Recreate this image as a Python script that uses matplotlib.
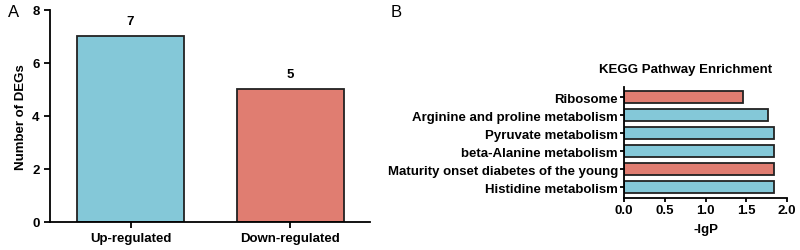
import matplotlib.pyplot as plt

plt.rcParams['font.family'] = ['Liberation Sans', 'DejaVu Sans']
plt.rcParams['font.weight'] = 'bold'

# panel A data
groups = ["Up-regulated", "Down-regulated"]
deg_counts = [7, 5]

# panel B data (bottom to top)
pathways = ["Histidine metabolism", "Maturity onset diabetes of the young",
            "beta-Alanine metabolism", "Pyruvate metabolism",
            "Arginine and proline metabolism", "Ribosome"]
neg_lgp = [1.84, 1.84, 1.84, 1.84, 1.77, 1.46]
direction = ["up", "down", "up", "up", "up", "down"]

blue = "#84C8D8"
red = "#E07D71"
edge = "#222222"
fs = 9.5

fig = plt.figure(figsize=(8, 2.51), dpi=100)

# ---- panel A ----
ax1 = fig.add_axes([0.0625, 0.112, 0.4, 0.845])
x = range(len(groups))
ax1.bar(x, deg_counts, width=0.67, color=[blue, red], edgecolor=edge, linewidth=1.3)
for i, v in zip(x, deg_counts):
    ax1.text(i, v + 0.35, str(v), ha='center', va='bottom', fontsize=fs, fontweight='bold')
ax1.set_xlim(-0.505, 1.5)
ax1.set_ylim(0, 8)
ax1.set_yticks([0, 2, 4, 6, 8])
ax1.set_xticks(list(x))
ax1.set_xticklabels(groups)
ax1.set_ylabel("Number of DEGs", fontsize=fs, fontweight='bold')
ax1.spines['top'].set_visible(False)
ax1.spines['right'].set_visible(False)
for s in ['left', 'bottom']:
    ax1.spines[s].set_linewidth(1.3)
ax1.tick_params(labelsize=fs, width=1.3, length=4)
fig.text(0.01, 0.95, "A", fontsize=12, fontweight='normal', va='center')

# ---- panel B ----
ax2 = fig.add_axes([0.78, 0.207, 0.204, 0.442])
cols = [blue if d == "up" else red for d in direction]
y = range(len(pathways))
ax2.barh(y, neg_lgp, height=0.65, color=cols, edgecolor=edge, linewidth=1.3)
ax2.set_ylim(-0.6, 5.55)
ax2.set_xlim(0, 2.0)
ax2.set_xticks([0.0, 0.5, 1.0, 1.5, 2.0])
ax2.set_xticklabels(["0.0", "0.5", "1.0", "1.5", "2.0"])
ax2.set_yticks(list(y))
ax2.set_yticklabels(pathways)
ax2.set_xlabel("-lgP", fontsize=fs, fontweight='bold', labelpad=5)
ax2.set_title("KEGG Pathway Enrichment", fontsize=fs, fontweight='bold', pad=11, x=0.38)
ax2.spines['top'].set_visible(False)
ax2.spines['right'].set_visible(False)
for s in ['left', 'bottom']:
    ax2.spines[s].set_linewidth(1.3)
ax2.tick_params(labelsize=fs, width=1.3, length=3, pad=1.5)
fig.text(0.488, 0.95, "B", fontsize=12, fontweight='normal', va='center')

fig.savefig("out.png", dpi=100)
